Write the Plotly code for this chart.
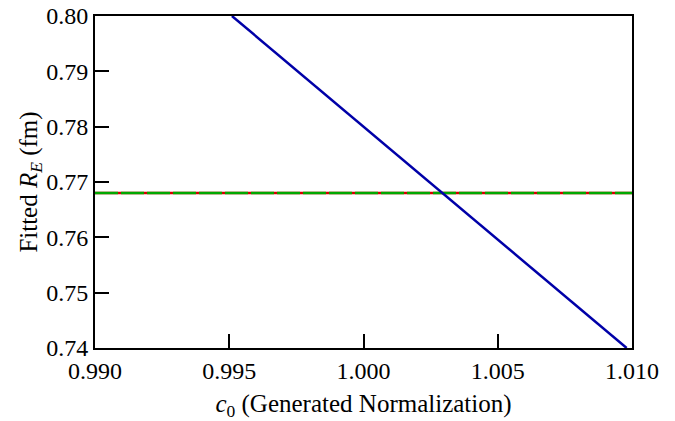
import plotly.graph_objects as go

# data
c0_fit = [0.9951, 1.0098]
re_fit = [0.800, 0.740]
c0_ref = [0.990, 1.010]
re_true = [0.768, 0.768]
re_const = [0.768, 0.768]

x_ticks = [0.990, 0.995, 1.000, 1.005, 1.010]
x_labels = ["0.990", "0.995", "1.000", "1.005", "1.010"]
y_ticks = [0.74, 0.75, 0.76, 0.77, 0.78, 0.79, 0.80]
y_labels = ["0.74", "0.75", "0.76", "0.77", "0.78", "0.79", "0.80"]

fig = go.Figure()
fig.add_trace(go.Scatter(x=c0_ref, y=re_true, mode="lines",
                         line=dict(color="#d40000", width=2.5), showlegend=False))
fig.add_trace(go.Scatter(x=c0_ref, y=re_const, mode="lines",
                         line=dict(color="#00a800", width=2.5, dash="23px,3px"), showlegend=False))
fig.add_trace(go.Scatter(x=c0_fit, y=re_fit, mode="lines",
                         line=dict(color="#0000a8", width=2.5), showlegend=False))

font_family = "Liberation Serif"
fig.update_layout(
    width=675, height=421,
    margin=dict(l=95, r=43, t=16, b=73),
    paper_bgcolor="white", plot_bgcolor="white",
    font=dict(family=font_family, size=24, color="black"),
)
fig.update_xaxes(
    range=[0.990, 1.010], tickvals=x_ticks, ticktext=x_labels,
    showgrid=False, zeroline=False, automargin=False,
    showline=True, linecolor="black", linewidth=2, mirror=True,
    ticks="inside", ticklen=14, tickwidth=2, tickcolor="black",
    ticklabeloverflow="allow",
    tickfont=dict(family=font_family, size=24, color="black"),
    title=dict(text="<i>c</i><sub>0</sub> (Generated Normalization)",
               font=dict(family=font_family, size=25, color="black"), standoff=22),
)
fig.update_yaxes(
    range=[0.74, 0.80], tickvals=y_ticks, ticktext=y_labels,
    showgrid=False, zeroline=False, automargin=False,
    showline=True, linecolor="black", linewidth=2, mirror=True,
    ticks="inside", ticklen=14, tickwidth=2, tickcolor="black",
    ticklabeloverflow="allow",
    tickfont=dict(family=font_family, size=24, color="black"),
    title=dict(text="Fitted <i>R</i><sub><i>E</i></sub> (fm)",
               font=dict(family=font_family, size=25, color="black"), standoff=0),
)
fig.write_html(
    "out.html",
    config={"displayModeBar": False},
    post_script="document.body.style.margin='0';document.body.style.padding='0';",
)
